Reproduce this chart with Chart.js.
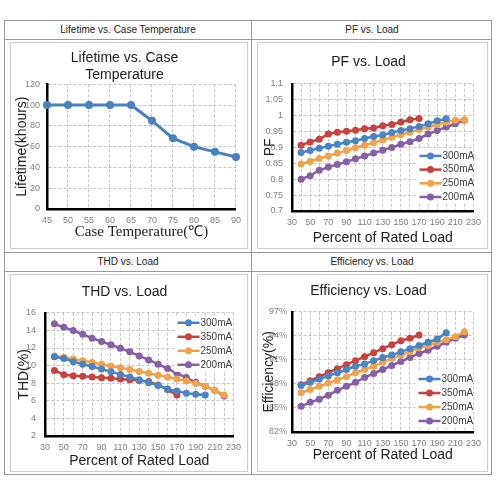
<!DOCTYPE html>
<html>
<head>
<meta charset="utf-8">
<script src="https://cdn.jsdelivr.net/npm/chart.js@4.4.1/dist/chart.umd.min.js"></script>
<style>
  body { margin: 0; background: #fff; font-family: "Liberation Sans", Arial, sans-serif; }
  .page { position: relative; width: 500px; height: 500px; overflow: hidden; }
  .frame { position: absolute; left: 4px; top: 20px; width: 488px; height: 455px; border: 1px solid #9a9a9a; box-sizing: border-box; }
  .rule { position: absolute; background: #9a9a9a; }
  .head { position: absolute; height: 19px; line-height: 19px; font-size: 10px; color: #222; text-align: center; }
  .box { position: absolute; border: 1px solid #cdcdcd; box-sizing: border-box; }
  .box canvas { position: absolute; left: 0; top: 0; }
</style>
</head>
<body>
<div class="page">
  <div class="frame"></div>
  <div class="rule" style="left:251px;top:20px;width:1px;height:455px"></div>
  <div class="rule" style="left:4px;top:39px;width:488px;height:1px"></div>
  <div class="rule" style="left:4px;top:252px;width:488px;height:1px"></div>
  <div class="rule" style="left:4px;top:271px;width:488px;height:1px"></div>

  <div class="head" style="left:4px;top:20px;width:248px">Lifetime vs. Case Temperature</div>
  <div class="head" style="left:252px;top:20px;width:240px">PF vs. Load</div>
  <div class="head" style="left:4px;top:252px;width:248px">THD vs. Load</div>
  <div class="head" style="left:252px;top:252px;width:240px">Efficiency vs. Load</div>

  <div class="box" style="left:10px;top:42px;width:238px;height:207px"><canvas id="life" width="236" height="205"></canvas></div>
  <div class="box" style="left:257px;top:42px;width:231px;height:207px"><canvas id="pf" width="229" height="205"></canvas></div>
  <div class="box" style="left:10px;top:274px;width:238px;height:198px"><canvas id="thd" width="236" height="196"></canvas></div>
  <div class="box" style="left:257px;top:274px;width:231px;height:198px"><canvas id="eff" width="229" height="196"></canvas></div>
</div>

<script>
// lifetime vs case temperature
const temps = [45, 50, 55, 60, 65, 70, 75, 80, 85, 90];
const lifetime = [100, 100, 100, 100, 100, 85, 68, 60, 55, 50];

// load curves, x = percent of rated load
const loadPct = [40, 50, 60, 70, 80, 90, 100, 110, 120, 130, 140, 150, 160, 170, 180, 190, 200, 210, 220];
const seriesNames = ['300mA', '350mA', '250mA', '200mA'];
const seriesColors = ['#4a84c6', '#c8433f', '#f2a248', '#8560a8'];

const pf300 = [0.884, 0.890, 0.897, 0.904, 0.910, 0.916, 0.921, 0.928, 0.934, 0.939, 0.947, 0.953, 0.959, 0.966, 0.974, 0.984, 0.990];
const pf350 = [0.907, 0.917, 0.926, 0.942, 0.948, 0.951, 0.954, 0.959, 0.961, 0.968, 0.972, 0.980, 0.987, 0.991];
const pf250 = [0.848, 0.856, 0.865, 0.873, 0.882, 0.890, 0.899, 0.907, 0.915, 0.923, 0.932, 0.940, 0.948, 0.956, 0.964, 0.972, 0.979, 0.985, 0.987];
const pf200 = [0.800, 0.811, 0.828, 0.838, 0.846, 0.855, 0.864, 0.873, 0.882, 0.891, 0.900, 0.910, 0.918, 0.928, 0.942, 0.953, 0.964, 0.974, 0.985];

const thd300 = [11.0, 10.8, 10.45, 10.15, 9.9, 9.6, 9.3, 9.0, 8.7, 8.4, 8.05, 7.75, 7.35, 7.1, 6.85, 6.75, 6.65];
const thd350 = [9.45, 8.95, 8.85, 8.78, 8.7, 8.62, 8.55, 8.47, 8.4, 8.32, 8.18, 7.8, 7.27, 6.65];
const thd250 = [11.1, 10.95, 10.75, 10.55, 10.35, 10.15, 9.95, 9.75, 9.55, 9.32, 9.12, 8.9, 8.7, 8.48, 8.26, 7.97, 7.65, 7.23, 6.65];
const thd200 = [14.75, 14.35, 14.0, 13.55, 13.12, 12.74, 12.36, 11.98, 11.56, 11.1, 10.65, 10.16, 9.66, 9.13, 8.64, 8.1, 7.65, 7.2, 6.55];

const eff300 = [87.8, 88.2, 88.6, 89.0, 89.4, 89.8, 90.2, 90.5, 90.9, 91.3, 91.6, 92.0, 92.4, 92.8, 93.2, 93.6, 94.4];
const eff350 = [87.9, 88.4, 88.9, 89.4, 89.9, 90.4, 90.9, 91.4, 91.9, 92.4, 92.9, 93.4, 93.7, 94.1];
const eff250 = [86.9, 87.3, 87.7, 88.1, 88.5, 88.9, 89.4, 89.8, 90.2, 90.7, 91.2, 91.6, 92.0, 92.5, 92.8, 93.2, 93.5, 93.9, 94.5];
const eff200 = [85.2, 85.7, 86.1, 86.6, 87.2, 87.7, 88.2, 88.8, 89.3, 89.8, 90.3, 90.8, 91.3, 91.8, 92.2, 92.7, 93.2, 93.7, 94.1];

Chart.defaults.font.family = '"Liberation Sans", Arial, sans-serif';
Chart.defaults.color = '#808080';

const GRID = { color: '#c4c4c4', lineWidth: 1, drawTicks: false };
const AXIS = { color: '#000', width: 2.5, dash: [3, 2] };

// legend drawn inside the plot area, like the excel one
const insideLegend = {
  id: 'insideLegend',
  afterDatasetsDraw(chart, args, opts) {
    if (!opts.show) return;
    const { ctx, chartArea } = chart;
    const sets = chart.data.datasets;
    const x0 = chartArea.right - opts.right;
    let y0 = opts.fromBottom
      ? chartArea.bottom - opts.offset - (sets.length - 1) * opts.gap
      : chartArea.top + opts.offset;
    ctx.save();
    ctx.fillStyle = '#fff';
    ctx.fillRect(x0 - 3, y0 - 7, chartArea.right - x0 + 2, (sets.length - 1) * opts.gap + 14);
    ctx.font = '10px "Liberation Sans", Arial, sans-serif';
    ctx.textBaseline = 'middle';
    sets.forEach((ds, i) => {
      const y = y0 + i * opts.gap;
      ctx.strokeStyle = ds.borderColor;
      ctx.lineWidth = 2.5;
      ctx.beginPath();
      ctx.moveTo(x0, y);
      ctx.lineTo(x0 + 22, y);
      ctx.stroke();
      ctx.fillStyle = ds.borderColor;
      ctx.beginPath();
      ctx.arc(x0 + 11, y, 3.5, 0, Math.PI * 2);
      ctx.fill();
      ctx.fillStyle = '#404040';
      ctx.fillText(ds.label, x0 + 23, y);
    });
    ctx.restore();
  }
};
Chart.register(insideLegend);

new Chart(document.getElementById('life'), {
  type: 'line',
  data: {
    labels: temps,
    datasets: [{
      data: lifetime,
      borderColor: '#4a7fc0',
      backgroundColor: '#4a7fc0',
      borderWidth: 3,
      pointRadius: 4,
      pointBorderWidth: 0
    }]
  },
  options: {
    responsive: false,
    animation: false,
    layout: { padding: { left: 0, right: 9, top: 0, bottom: 0 } },
    plugins: {
      legend: { display: false },
      tooltip: { enabled: false },
      title: {
        display: true,
        text: ['Lifetime vs. Case', 'Temperature'],
        color: '#222',
        font: { size: 14, weight: 'normal', lineHeight: 1.19 },
        padding: { top: 7, bottom: 1 }
      }
    },
    scales: {
      x: {
        type: 'category',
        grid: GRID,
        border: AXIS,
        ticks: { autoSkip: false, maxRotation: 0, padding: 6, font: { size: 9 } },
        title: {
          display: true,
          text: 'Case Temperature(℃)',
          color: '#222',
          font: { family: '"Liberation Serif", "Times New Roman", serif', size: 15 },
          padding: { top: 0, bottom: 7 }
        },
        afterFit: s => { s.height = 39; }
      },
      y: {
        min: 0,
        max: 120,
        grid: GRID,
        border: AXIS,
        ticks: { stepSize: 20, padding: 7, font: { size: 9 } },
        title: {
          display: true,
          text: 'Lifetime(khours)',
          color: '#222',
          font: { size: 14 },
          padding: { top: 3, bottom: 0 }
        },
        afterFit: s => { s.width = 36; }
      }
    }
  }
});

function loadChart(id, title, series, y, lay) {
  return new Chart(document.getElementById(id), {
    type: 'line',
    data: {
      datasets: series.map((vals, i) => ({
        label: seriesNames[i],
        data: vals.map((v, k) => ({ x: loadPct[k], y: v })),
        borderColor: seriesColors[i],
        backgroundColor: seriesColors[i],
        borderWidth: 2.5,
        pointRadius: 3.5,
        pointBorderWidth: 0
      }))
    },
    options: {
      responsive: false,
      animation: false,
      layout: { padding: { left: 0, right: lay.right, top: 0, bottom: 0 } },
      plugins: {
        legend: { display: false },
        tooltip: { enabled: false },
        insideLegend: lay.legend,
        title: {
          display: true,
          text: title,
          color: '#222',
          font: { size: 14, weight: 'normal', lineHeight: 1.2 },
          padding: { top: lay.titleTop, bottom: lay.titleBottom }
        }
      },
      scales: {
        x: {
          type: 'linear',
          min: 30,
          max: 230,
          grid: GRID,
          border: AXIS,
          ticks: {
            stepSize: 10,
            autoSkip: false,
            maxRotation: 0,
            padding: 6,
            font: { size: 9 },
            callback: v => ((v - 30) % 20 === 0 ? String(v) : '')
          },
          title: {
            display: true,
            text: 'Percent of Rated Load',
            color: '#222',
            font: { size: 14 },
            padding: { top: 0, bottom: lay.xTitleBottom }
          },
          afterFit: s => { s.height = lay.xHeight; }
        },
        y: {
          min: y.min,
          max: y.max,
          grid: GRID,
          border: AXIS,
          ticks: { stepSize: y.step, padding: lay.yTickPad, font: { size: 9 }, callback: y.format },
          title: {
            display: true,
            text: y.title,
            color: '#222',
            font: { size: 14 },
            padding: { top: lay.yTitleTop, bottom: 0 }
          },
          afterFit: s => { s.width = 34; }
        }
      }
    }
  });
}

loadChart('pf', 'PF vs. Load', [pf300, pf350, pf250, pf200],
  { min: 0.7, max: 1.1, step: 0.05, title: 'PF', format: v => String(+v.toFixed(2)) },
  { right: 8, titleTop: 11, titleBottom: 13, xHeight: 37, xTitleBottom: 1, yTickPad: 9, yTitleTop: 4,
    legend: { show: true, right: 54, offset: 14, gap: 13.7, fromBottom: true } });

loadChart('thd', 'THD vs. Load', [thd300, thd350, thd250, thd200],
  { min: 2, max: 16, step: 2, title: 'THD(%)', format: v => String(v) },
  { right: 9, titleTop: 9, titleBottom: 12, xHeight: 35, xTitleBottom: 1, yTickPad: 9, yTitleTop: 5,
    legend: { show: true, right: 56, offset: 10, gap: 14, fromBottom: false } });

loadChart('eff', 'Efficiency vs. Load', [eff300, eff350, eff250, eff200],
  { min: 82, max: 97, step: 3, title: 'Efficiency(%)', format: v => v + '%' },
  { right: 8, titleTop: 8, titleBottom: 12, xHeight: 39, xTitleBottom: 7, yTickPad: 5, yTitleTop: 3,
    legend: { show: true, right: 55, offset: 11, gap: 14, fromBottom: true } });
</script>
</body>
</html>
